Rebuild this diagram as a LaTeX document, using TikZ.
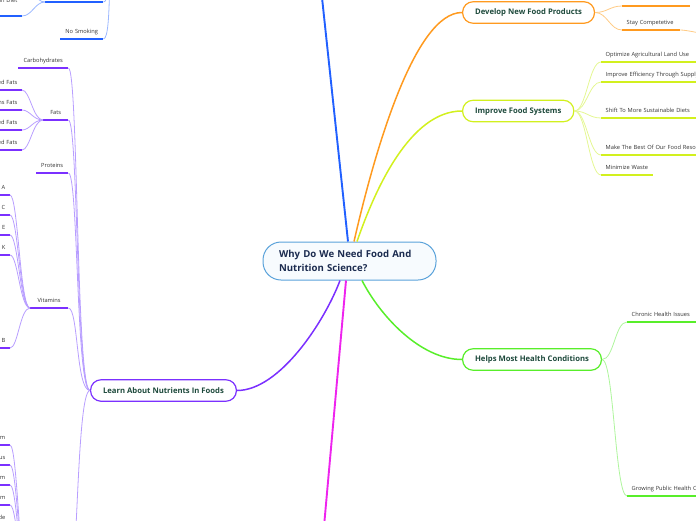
\documentclass[tikz,border=0pt]{standalone}
\usepackage{fontspec}
\setmainfont{Open Sans}
\usetikzlibrary{positioning,calc}
\definecolor{mmblue}{HTML}{2160FF}
\definecolor{mmbluelt}{HTML}{9CB8FF}
\definecolor{mmorange}{HTML}{FF9A1F}
\definecolor{mmorangelt}{HTML}{FFCB85}
\definecolor{mmlime}{HTML}{D2F01E}
\definecolor{mmlimelt}{HTML}{E4F792}
\definecolor{mmgreen}{HTML}{58EE2A}
\definecolor{mmgreenlt}{HTML}{AEF59C}
\definecolor{mmpurple}{HTML}{7B30FF}
\definecolor{mmpurplelt}{HTML}{B89EFF}
\definecolor{mmmagenta}{HTML}{EE24EE}
\definecolor{rootline}{HTML}{5AA2DA}
\definecolor{rootfill}{HTML}{F7FBFE}
\definecolor{roottext}{HTML}{1B2B4F}
\definecolor{topictext}{HTML}{1E4A3C}
\definecolor{leaftext}{HTML}{333333}
\tikzset{
  root/.style  = {draw=rootline, line width=1pt, fill=rootfill, rounded corners=18pt,
                  minimum height=38pt, text width=141pt, inner xsep=16pt, align=left,
                  font=\fontsize{9.6}{14}\selectfont\bfseries, text=roottext},
  topic/.style = {draw=#1, line width=1.2pt, fill=white, rounded corners=10.5pt,
                  minimum height=21.5pt, inner xsep=12.5pt,
                  font=\fontsize{7.7}{10}\selectfont\bfseries, text=topictext},
  leaf/.style  = {font=\fontsize{5.7}{7}\selectfont, text=leaftext, inner xsep=4.5pt,
                  inner ysep=3.5pt, text height=4.3pt, text depth=1.4pt},
  uline/.style = {append after command={(\tikzlastnode.south west)
                  edge[draw=#1, line width=1.8pt] (\tikzlastnode.south east)}},
  limb/.style  = {draw=#1, line width=1.5pt},
  twig/.style  = {draw=#1, line width=0.8pt},
}
\begin{document}
\begin{tikzpicture}[x=1pt, y=-1pt]
  \clip (0,0) rectangle (696,520);
  % root and main topics
  \node[root] (why) at (349.5,261) {Why Do We Need Food And\\Nutrition Science?};
  \node[topic=mmorange, anchor=west] (newprod) at (462,12.5) {Develop New Food Products};
  \node[topic=mmlime, anchor=west] (foodsys) at (462,111) {Improve Food Systems};
  \node[topic=mmgreen, anchor=west] (health) at (462,359.5) {Helps Most Health Conditions};
  \node[topic=mmpurple, anchor=east] (nutri) at (237,390.5) {Learn About Nutrients In Foods};
  % ends of branches that run out of the picture
  \coordinate (lifeE) at (318,-40);
  \coordinate (lifeW) at (116,-70);
  \coordinate (magW) at (321,560);
  \coordinate (minE) at (68,600);
  \coordinate (minW) at (30,600);
  \coordinate (stayR) at (760,45);
  \coordinate (dietup) at (22,-14);
  % main branches
  \draw[limb=mmblue, line width=1.9pt] ($(why.north)+(-1.5,0)$) -- (lifeE);
  \draw[limb=mmmagenta, line width=1.9pt] ($(why.south)+(-3.5,0)$) -- (magW);
  \draw[limb=mmorange] ($(why.north)+(4.5,0)$) .. controls +(21,-92) and +(-47,0) .. (newprod.west);
  \draw[limb=mmlime] ($(why.north)+(7.5,0)$) .. controls +(18,-52) and +(-52,0) .. (foodsys.west);
  \draw[limb=mmgreen] ($(why.south)+(12.5,0)$) .. controls +(18,35) and +(-42,0) .. (health.west);
  \draw[limb=mmpurple] ($(why.south)+(-9.5,0)$) .. controls +(-15,40) and +(43,0) .. (nutri.east);
  % nutrients
  \node[leaf, uline=mmpurple, anchor=south west, text width=41pt, align=center] (carbs) at (18,68) {Carbohydrates};
  \node[leaf, uline=mmpurple, anchor=south west, text width=16pt, align=center] (fats) at (43,120) {Fats};
  \node[leaf, uline=mmpurple, anchor=south west, text width=23pt, align=center] (prot) at (36,173) {Proteins};
  \node[leaf, uline=mmpurple, anchor=south west, text width=29pt, align=center] (vits) at (30,308) {Vitamins};
  \foreach \nm in {carbs,fats,prot,vits}
    \draw[twig=mmpurplelt] (nutri.west) .. controls +(-14,0) and +(10,0) .. (\nm.south east);
  \draw[twig=mmpurplelt] (nutri.west) .. controls +(-14,0) and +(10,0) .. (minE);
  \foreach \nm/\y/\txt in {satf/90/Saturated Fats, transf/110/Trans Fats,
                          monof/130/Monounsaturated Fats, polyf/150/Polyunsaturated Fats} {
    \node[leaf, uline=mmpurple, anchor=south east, text width=80pt, align=right] (\nm) at (22,\y) {\txt};
    \draw[twig=mmpurplelt] (fats.south west) .. controls +(-10,0) and +(8,0) .. (\nm.south east);
  }
  \foreach \nm/\y/\txt in {vita/195/Vitamin A, vitc/215/Vitamin C, vite/235/Vitamin E,
                          vitk/255/Vitamin K, vitb/348/Vitamin B} {
    \node[leaf, uline=mmpurple, anchor=south east, text width=60pt, align=right] (\nm) at (10,\y) {\txt};
    \draw[twig=mmpurplelt] (vits.south west) .. controls +(-10,0) and +(8,0) .. (\nm.south east);
  }
  \foreach \nm/\y/\txt in {mcal/445/Calcium, mpho/465/Phosphorus, mpot/485/Potassium,
                          msod/505/Sodium, mchl/525/Chloride} {
    \node[leaf, uline=mmpurple, anchor=south east, text width=60pt, align=right] (\nm) at (10,\y) {\txt};
    \draw[twig=mmpurplelt] (minW) .. controls +(-10,0) and +(8,0) .. (\nm.south east);
  }
  % lifestyle (top left)
  \node[leaf, uline=mmblue, anchor=south west, text width=49pt] (diet) at (45,2) {};
  \node[leaf, uline=mmblue, anchor=south east, text width=80pt, align=right, text depth=10pt] (meddiet) at (22,16) {Mediterranean Diet};
  \node[leaf, uline=mmblue, anchor=south west, text width=34pt, align=center] (nosmoke) at (60,39) {No Smoking};
  \draw[twig=mmbluelt] (lifeW) .. controls +(-10,0) and +(10,0) .. (diet.south east);
  \draw[twig=mmbluelt] (lifeW) .. controls +(-10,0) and +(10,0) .. (nosmoke.south east);
  \draw[twig=mmbluelt] (diet.south west) .. controls +(-10,0) and +(10,0) .. (meddiet.south east);
  \draw[twig=mmbluelt] (diet.south west) .. controls +(-10,0) and +(10,0) .. (dietup);
  % new products
  \node[leaf, uline=mmorange, anchor=south west, text width=59pt] (prodtop) at (622,6) {};
  \node[leaf, uline=mmorange, anchor=south west, text width=49pt, align=left] (compete) at (622,30) {Stay Competetive};
  \foreach \nm in {prodtop,compete}
    \draw[twig=mmorangelt] (newprod.east) .. controls +(12,0) and +(-12,0) .. (\nm.south west);
  \draw[twig=mmorangelt] (compete.south east) .. controls +(12,0) and +(-12,0) .. (stayR);
  % food systems
  \foreach \nm/\y/\txt in {landuse/62/Optimize Agricultural Land Use,
                          supply/82/Improve Efficiency Through Supply Chains,
                          diets/118/Shift To More Sustainable Diets,
                          resources/155/Make The Best Of Our Food Resources}
    \node[leaf, uline=mmlime, anchor=south west, text width=120pt, align=left] (\nm) at (601,\y) {\txt};
  \node[leaf, uline=mmlime, anchor=south west, text width=43pt, align=left] (waste) at (601,175) {Minimize Waste};
  \foreach \nm in {landuse,supply,diets,resources,waste}
    \draw[twig=mmlimelt] (foodsys.east) .. controls +(12,0) and +(-12,0) .. (\nm.south west);
  % health
  \node[leaf, uline=mmgreen, anchor=south west, text width=120pt, align=left] (chronic) at (627,322) {Chronic Health Issues};
  \node[leaf, uline=mmgreen, anchor=south west, text width=120pt, align=left] (growing) at (627,496) {Growing Public Health Concerns};
  \foreach \nm in {chronic,growing}
    \draw[twig=mmgreenlt] (health.east) .. controls +(12,0) and +(-12,0) .. (\nm.south west);
\end{tikzpicture}
\end{document}
